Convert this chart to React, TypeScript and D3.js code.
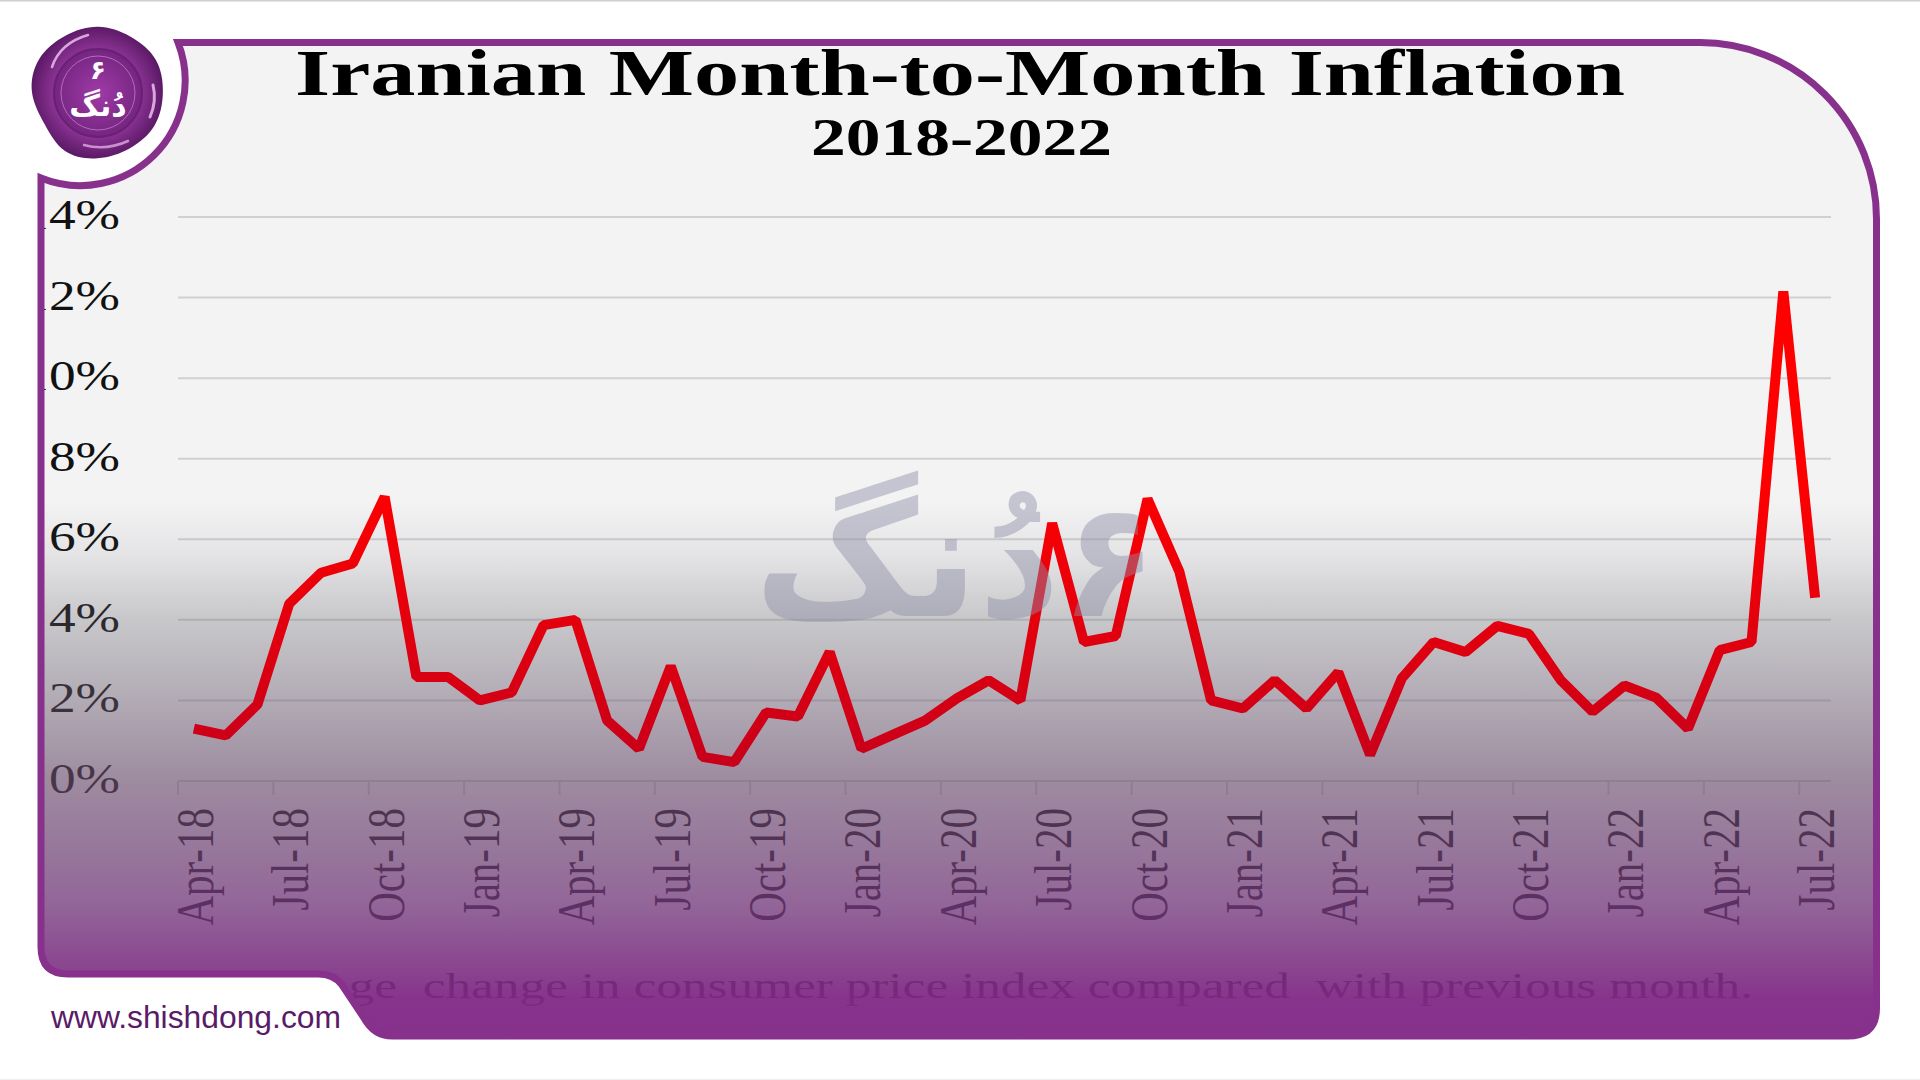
import React, { useEffect, useRef } from "react";
import * as d3 from "d3";

const months = [
  "Apr-18", "May-18", "Jun-18", "Jul-18", "Aug-18", "Sep-18", "Oct-18", "Nov-18", "Dec-18",
  "Jan-19", "Feb-19", "Mar-19", "Apr-19", "May-19", "Jun-19", "Jul-19", "Aug-19", "Sep-19",
  "Oct-19", "Nov-19", "Dec-19", "Jan-20", "Feb-20", "Mar-20", "Apr-20", "May-20", "Jun-20",
  "Jul-20", "Aug-20", "Sep-20", "Oct-20", "Nov-20", "Dec-20", "Jan-21", "Feb-21", "Mar-21",
  "Apr-21", "May-21", "Jun-21", "Jul-21", "Aug-21", "Sep-21", "Oct-21", "Nov-21", "Dec-21",
  "Jan-22", "Feb-22", "Mar-22", "Apr-22", "May-22", "Jun-22", "Jul-22",
];

const inflation = [
  1.3, 1.13, 1.9, 4.4, 5.17, 5.4, 7.05, 2.58, 2.58,
  2.0, 2.2, 3.87, 4.0, 1.5, 0.8, 2.85, 0.6, 0.47,
  1.7, 1.6, 3.2, 0.8, 1.15, 1.5, 2.05, 2.5, 2.0,
  6.4, 3.45, 3.6, 7.0, 5.2, 2.0, 1.8, 2.5, 1.8,
  2.7, 0.65, 2.55, 3.45, 3.2, 3.85, 3.65, 2.5, 1.72,
  2.37, 2.07, 1.3, 3.25, 3.45, 12.15, 4.55,
];

const yTicks = [0, 2, 4, 6, 8, 10, 12, 14];
const xTickLabels = months.filter((d, i) => i % 3 === 0);
const sealRadii = [70, 67, 71, 67, 69, 66, 68, 72, 62, 70, 72, 68];

const PURPLE = "#87318c";
const SERIF = "'Liberation Serif', serif";
const STRETCH = 1.27;

// outline of the card: seal cut-out top left, tab for the url bottom left
const panelPath =
  "M41,178 A105,105 0 0 0 178,42.5 L1700,42.5 A176.5,176.5 0 0 1 1876.5,219 " +
  "L1876.5,1008 Q1876.5,1036 1848,1036 L392,1036 Q374,1036 364,1018 L342,985 " +
  "Q334,974 318,974 L68,974 Q41,974 41,947 Z";

const App = () => {
  const svgRef = useRef<SVGSVGElement>(null);

  useEffect(() => {
    const svg = d3.select(svgRef.current);
    svg.selectAll("*").remove();

    const left = 178;
    const right = 1831;
    const top = 217;
    const bottom = 781;

    const xScale = d3.scaleBand().domain(months).range([left, right]);
    const yScale = d3.scaleLinear().domain([0, 14]).range([bottom, top]);

    const defs = svg.append("defs");
    defs.append("clipPath").attr("id", "panel-clip").append("path").attr("d", panelPath);

    // the fade sits over the chart, so the lower labels sink into the purple
    const fade = defs
      .append("linearGradient")
      .attr("id", "fade")
      .attr("gradientUnits", "userSpaceOnUse")
      .attr("x1", 0).attr("x2", 0).attr("y1", 500).attr("y2", 1036);
    [
      [0, "#64626a", 0],
      [0.1, "#64626a", 0.1],
      [0.22, "#64626a", 0.3],
      [0.52, "#694c6c", 0.62],
      [0.75, "#743a7c", 0.76],
      [0.93, "#812a86", 0.95],
      [1, PURPLE, 1],
    ].forEach(([o, c, a]) =>
      fade.append("stop").attr("offset", o).attr("stop-color", c).attr("stop-opacity", a)
    );

    const lineFade = defs
      .append("linearGradient")
      .attr("id", "line-fade")
      .attr("gradientUnits", "userSpaceOnUse")
      .attr("x1", 0).attr("x2", 0).attr("y1", 480).attr("y2", 781);
    lineFade.append("stop").attr("offset", 0).attr("stop-color", "#ff0000");
    lineFade.append("stop").attr("offset", 1).attr("stop-color", "#c4001c");

    const sealGrad = defs.append("radialGradient").attr("id", "seal-grad");
    sealGrad.append("stop").attr("offset", 0).attr("stop-color", "#a24aaa");
    sealGrad.append("stop").attr("offset", 0.7).attr("stop-color", "#86308f");
    sealGrad.append("stop").attr("offset", 1).attr("stop-color", "#5c1a66");

    const innerGrad = defs.append("radialGradient").attr("id", "seal-inner");
    innerGrad.append("stop").attr("offset", 0).attr("stop-color", "#a03aa8");
    innerGrad.append("stop").attr("offset", 1).attr("stop-color", "#742680");

    svg.append("rect").attr("width", 1920).attr("height", 1080).attr("fill", "#fff");
    svg.append("rect").attr("width", 1920).attr("height", 1.5).attr("fill", "#cfcfcf");
    svg.append("rect").attr("y", 1079).attr("width", 1920).attr("height", 1).attr("fill", "#eeeeee");

    const panel = svg.append("g").attr("clip-path", "url(#panel-clip)");
    panel.append("path").attr("d", panelPath).attr("fill", "#f3f3f4");

    // Title
    panel.append("text")
      .attr("x", 295).attr("y", 95)
      .attr("textLength", 1330).attr("lengthAdjust", "spacingAndGlyphs")
      .style("font-family", SERIF).style("font-size", "65px").style("font-weight", "bold")
      .attr("fill", "#000")
      .text("Iranian Month-to-Month Inflation");
    panel.append("text")
      .attr("x", 811).attr("y", 155)
      .attr("textLength", 301).attr("lengthAdjust", "spacingAndGlyphs")
      .style("font-family", SERIF).style("font-size", "52px").style("font-weight", "bold")
      .attr("fill", "#000")
      .text("2018-2022");

    // Grid
    panel.append("g")
      .selectAll("line")
      .data(yTicks)
      .enter()
      .append("line")
      .attr("x1", left).attr("x2", right)
      .attr("y1", (d) => yScale(d)).attr("y2", (d) => yScale(d))
      .attr("stroke", "#d0d0d2").attr("stroke-width", 2);

    // Y axis
    const yAxis = panel.append("g")
      .attr("transform", `translate(${left},0)`)
      .call(d3.axisLeft(yScale).tickValues(yTicks).tickSize(0).tickFormat((d) => `${d}%`));
    yAxis.select(".domain").remove();
    yAxis.selectAll("text")
      .attr("x", 0).attr("dy", 0)
      .attr("transform", `translate(-58,11.5) scale(${STRETCH},1)`)
      .style("font-family", SERIF).style("font-size", "42px")
      .attr("fill", "#111");

    // X axis, ticks on the band edges and labels in the band centre
    panel.append("g")
      .selectAll("line")
      .data(xTickLabels)
      .enter()
      .append("line")
      .attr("x1", (d) => xScale(d)).attr("x2", (d) => xScale(d))
      .attr("y1", bottom).attr("y2", bottom + 14)
      .attr("stroke", "#d0d0d2").attr("stroke-width", 2);

    const xAxis = panel.append("g")
      .attr("transform", `translate(0,${bottom})`)
      .call(d3.axisBottom(xScale).tickValues(xTickLabels).tickSize(0));
    xAxis.select(".domain").remove();
    xAxis.selectAll("text")
      .attr("x", 0).attr("y", 0).attr("dy", 0)
      .attr("text-anchor", "end")
      .attr("transform", `translate(19,27) scale(${STRETCH},1) rotate(-90)`)
      .style("font-family", SERIF).style("font-size", "41px")
      .attr("fill", "#111");

    // Footnote, mostly lost in the purple
    panel.append("text")
      .attr("x", 172).attr("y", 998)
      .attr("textLength", 1581).attr("lengthAdjust", "spacingAndGlyphs")
      .attr("xml:space", "preserve")
      .style("white-space", "pre")
      .style("font-family", SERIF).style("font-size", "36px")
      .attr("fill", "#000")
      .text("Percentage  change in consumer price index compared  with previous month.");

    panel.append("rect").attr("width", 1920).attr("height", 1080).attr("fill", "url(#fade)");

    // Line
    const line = d3.line<number>()
      .x((d, i) => xScale(months[i]) + xScale.bandwidth() / 2)
      .y((d) => yScale(d));
    panel.append("path")
      .datum(inflation)
      .attr("d", line)
      .attr("fill", "none")
      .attr("stroke", "url(#line-fade)")
      .attr("stroke-width", 10)
      .attr("stroke-linejoin", "bevel");

    // Watermark
    panel.append("text")
      .attr("x", 1158).attr("y", 616)
      .attr("direction", "rtl")
      .attr("text-anchor", "start")
      .style("font-family", "'DejaVu Sans', sans-serif").style("font-size", "160px").style("font-weight", "bold")
      .attr("fill", "#8f8fa8").attr("opacity", 0.45)
      .text("۶دُنگ");

    // Card border
    svg.append("path")
      .attr("d", panelPath)
      .attr("fill", "none")
      .attr("stroke", PURPLE)
      .attr("stroke-width", 7);

    // Url
    svg.append("text")
      .attr("x", 51).attr("y", 1028)
      .attr("textLength", 290).attr("lengthAdjust", "spacingAndGlyphs")
      .style("font-family", "'Liberation Sans', sans-serif").style("font-size", "31px")
      .attr("fill", "#5a1a68")
      .text("www.shishdong.com");

    // Wax seal
    const seal = svg.append("g").attr("transform", "translate(98,93)");
    const blob = d3.lineRadial<number>()
      .angle((d, i) => (i / sealRadii.length) * 2 * Math.PI)
      .radius((d) => d)
      .curve(d3.curveBasisClosed);
    seal.append("path").attr("d", blob(sealRadii)).attr("fill", "url(#seal-grad)");
    seal.append("path")
      .attr("d", "M-46,-26 Q-38,-50 -10,-58")
      .attr("fill", "none").attr("stroke", "#d9a6de").attr("stroke-width", 2.5).attr("stroke-linecap", "round");
    seal.append("path")
      .attr("d", "M55,-8 Q59,8 52,24")
      .attr("fill", "none").attr("stroke", "#d9a6de").attr("stroke-width", 3).attr("stroke-linecap", "round");
    seal.append("path")
      .attr("d", "M-14,52 Q8,58 30,48")
      .attr("fill", "none").attr("stroke", "#c98fd0").attr("stroke-width", 2.5).attr("stroke-linecap", "round");
    seal.append("circle").attr("r", 44).attr("fill", "url(#seal-inner)").attr("stroke", "#6a2074").attr("stroke-width", 2);
    seal.append("circle").attr("r", 37).attr("fill", "none").attr("stroke", "#b868c0").attr("stroke-width", 1);
    seal.append("text")
      .attr("y", -14).attr("text-anchor", "middle")
      .style("font-family", "'DejaVu Sans', sans-serif").style("font-size", "26px").style("font-weight", "bold")
      .attr("fill", "#fff")
      .text("۶");
    seal.append("text")
      .attr("y", 23).attr("text-anchor", "middle").attr("direction", "rtl")
      .style("font-family", "'DejaVu Sans', sans-serif").style("font-size", "30px").style("font-weight", "bold")
      .attr("fill", "#fff")
      .text("دُنگ");
  }, []);

  return (
    <svg
      ref={svgRef}
      width={1920}
      height={1080}
      viewBox="0 0 1920 1080"
      style={{ position: "absolute", left: 0, top: 0, display: "block" }}
    />
  );
};

export default App;
